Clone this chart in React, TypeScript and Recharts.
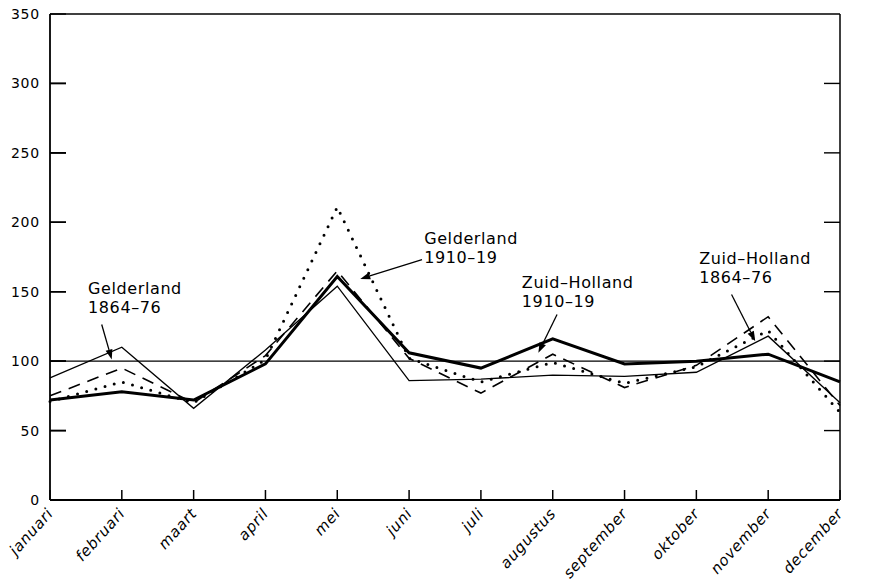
import React from 'react'
import {
  LineChart,
  Line,
  XAxis,
  YAxis,
  ReferenceLine,
  ReferenceDot,
} from 'recharts'

const months = [
  'januari', 'februari', 'maart', 'april', 'mei', 'juni',
  'juli', 'augustus', 'september', 'oktober', 'november', 'december',
]

// index 100 = yearly average
const gelderland1864 = [88, 110, 66, 108, 154, 86, 87, 90, 89, 92, 118, 70]
const gelderland1910 = [71, 85, 70, 101, 211, 102, 85, 99, 84, 96, 122, 63]
const zuidHolland1910 = [72, 78, 72, 98, 161, 106, 95, 116, 98, 100, 105, 85]
const zuidHolland1864 = [75, 95, 70, 104, 165, 102, 77, 105, 81, 97, 132, 68]

const yTicks = [0, 50, 100, 150, 200, 250, 300, 350]

// annotation text (x = month index, y = value at first baseline)
const labelNames = ['Gelderland', 'Gelderland', 'Zuid–Holland', 'Zuid–Holland']
const labelYears = ['1864–76', '1910–19', '1910–19', '1864–76']
const labelX = [0.53, 5.21, 6.57, 9.04]
const labelY = [148.4, 184.6, 152.8, 170.0]

// arrows: from -> to
const arrowFromX = [0.72, 5.18, 7.06, 9.49]
const arrowFromY = [126.4, 173.1, 133.6, 148.0]
const arrowToX = [0.86, 4.32, 6.8, 9.82]
const arrowToY = [101.2, 159.2, 106.0, 114.4]

const data = months.map((m, i) => ({
  i,
  month: m,
  g1864: gelderland1864[i],
  g1910: gelderland1910[i],
  z1910: zuidHolland1910[i],
  z1864: zuidHolland1864[i],
}))

const FONT = '"DejaVu Sans", sans-serif'

function Arrow(props: any) {
  const { x1, y1, x2, y2 } = props
  const ang = Math.atan2(y2 - y1, x2 - x1)
  const len = 10
  const w = 3.5
  const bx = x2 - len * Math.cos(ang)
  const by = y2 - len * Math.sin(ang)
  const px = -Math.sin(ang) * w
  const py = Math.cos(ang) * w
  return (
    <g>
      <line x1={x1} y1={y1} x2={bx} y2={by} stroke="#000" strokeWidth={1.3} />
      <polygon points={`${x2},${y2} ${bx + px},${by + py} ${bx - px},${by - py}`} fill="#000" />
    </g>
  )
}

// inward tick marks on both vertical axes
function InwardTicks(props: any) {
  const x1 = Number(props.x1)
  const x2 = Number(props.x2)
  const y = Number(props.y1)
  const left = Math.min(x1, x2)
  const right = Math.max(x1, x2)
  return (
    <g>
      <line x1={left} y1={y} x2={left + 16} y2={y} stroke="#000" strokeWidth={1.4} />
      <line x1={right - 16} y1={y} x2={right} y2={y} stroke="#000" strokeWidth={1.4} />
    </g>
  )
}

// left tick drawn from the axis point inward
function LeftTickMark({ cx, cy }: any) {
  const x = Number(cx)
  const y = Number(cy)
  return <path d={`M${x},${y}H${x + 16}`} stroke="#000" strokeWidth={1.4} fill="none" />
}

function labelShape(k: number) {
  return ({ cx, cy }: any) => (
    <text x={cx} y={cy} fontSize={16} fontFamily={FONT} letterSpacing={0.6} fill="#000">
      <tspan x={cx}>{labelNames[k]}</tspan>
      <tspan x={cx} dy={19}>{labelYears[k]}</tspan>
    </text>
  )
}

export default function App() {
  return (
    <div style={{ position: 'absolute', left: 0, top: 0, background: '#fff' }}>
      <LineChart
        width={892}
        height={584}
        data={data}
        margin={{ top: 14, right: 0, bottom: 0, left: 0 }}
      >
        <XAxis
          dataKey="i"
          type="number"
          domain={[0, 11]}
          ticks={months.map((_, i) => i)}
          interval={0}
          height={84}
          tickSize={-10}
          tickMargin={10}
          tickLine={{ stroke: '#000', strokeWidth: 1.5 }}
          axisLine={{ stroke: '#000', strokeWidth: 1.8 }}
          tickFormatter={(i: number) => months[i]}
          tick={{
            angle: -48,
            textAnchor: 'end',
            verticalAnchor: 'end',
            dx: -4,
            dy: 7,
            fontSize: 15,
            fontStyle: 'italic',
            fontFamily: FONT,
            letterSpacing: 0.7,
            fill: '#000',
          }}
        />
        <YAxis
          yAxisId="left"
          domain={[0, 350]}
          ticks={yTicks}
          width={50}
          tickSize={-16}
          tickMargin={26}
          tickLine={{ stroke: '#000', strokeWidth: 1.4 }}
          axisLine={{ stroke: '#000', strokeWidth: 1.8 }}
          tick={{ fontSize: 14, fontFamily: FONT, fill: '#000', letterSpacing: 0.8 }}
        />
        <YAxis
          yAxisId="right"
          orientation="right"
          domain={[0, 350]}
          ticks={yTicks}
          width={52}
          tickSize={-16}
          tickMargin={26}
          tickLine={false}
          axisLine={{ stroke: '#000', strokeWidth: 1.5 }}
          tick={{ fontSize: 14, fontFamily: FONT, fill: '#000', letterSpacing: 0.8 }}
        />
        <ReferenceLine yAxisId="left" y={350} stroke="#000" strokeWidth={1.5} />
        <ReferenceLine yAxisId="left" y={100} stroke="#000" strokeWidth={1.2} />
        {yTicks.filter(v => v > 0 && v < 350).map(v => (
          <ReferenceLine key={'t' + v} yAxisId="left" y={v} shape={InwardTicks} />
        ))}

        <Line yAxisId="left" dataKey="g1864" type="linear" stroke="#000" strokeWidth={1.3} dot={false} isAnimationActive={false} />
        <Line yAxisId="left" dataKey="z1864" type="linear" stroke="#000" strokeWidth={1.6} strokeDasharray="12 8" dot={false} isAnimationActive={false} />
        <Line yAxisId="left" dataKey="g1910" type="linear" stroke="#000" strokeWidth={3} strokeDasharray="0 9.5" strokeLinecap="round" dot={false} isAnimationActive={false} />
        <Line yAxisId="left" dataKey="z1910" type="linear" stroke="#000" strokeWidth={3} dot={false} isAnimationActive={false} />

        {yTicks.filter(v => v > 0 && v < 350).map(v => (
          <ReferenceDot key={'d' + v} yAxisId="left" x={0} y={v} r={0} ifOverflow="visible" shape={LeftTickMark} />
        ))}
        {labelX.map((lx, k) => (
          <ReferenceDot key={'l' + k} yAxisId="left" x={lx} y={labelY[k]} r={0} shape={labelShape(k)} />
        ))}
        {arrowFromX.map((ax, k) => (
          <ReferenceLine
            key={'a' + k}
            yAxisId="left"
            segment={[
              { x: ax, y: arrowFromY[k] },
              { x: arrowToX[k], y: arrowToY[k] },
            ]}
            shape={Arrow}
          />
        ))}
      </LineChart>
    </div>
  )
}
